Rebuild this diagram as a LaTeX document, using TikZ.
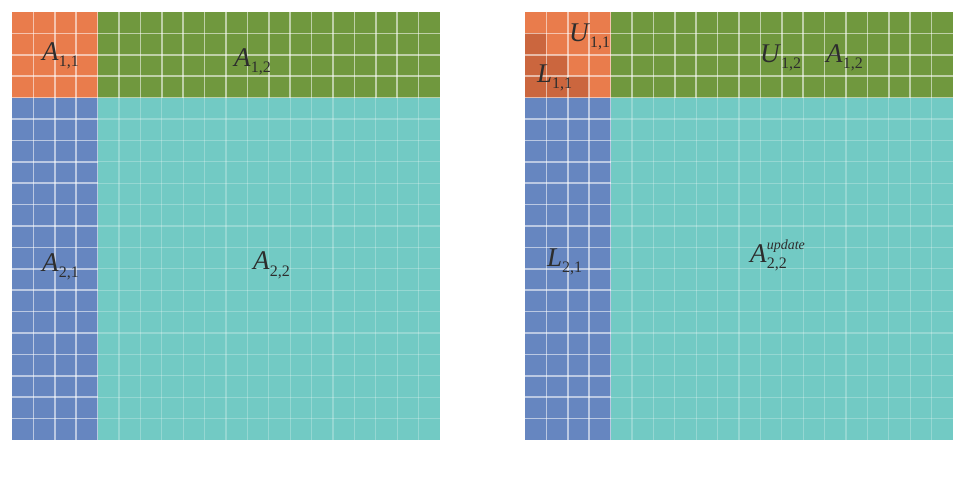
\documentclass[tikz,border=0pt]{standalone}
\usepackage{fontspec}
\setmainfont{Liberation Serif}
\definecolor{orng}{RGB}{233,124,76}
\definecolor{dorng}{RGB}{203,102,62}
\definecolor{grn}{RGB}{112,152,62}
\definecolor{blu}{RGB}{102,134,192}
\definecolor{cyn}{RGB}{114,202,196}
\definecolor{txt}{RGB}{45,45,45}
\newcommand{\blab}[2]{\textit{#1}\raisebox{-6pt}{\fontsize{16}{16}\selectfont #2}}
\begin{document}
\begin{tikzpicture}[x=1pt,y=-1pt,
  lbl/.style={font=\fontsize{27}{27}\selectfont, text=txt, inner sep=0pt, anchor=base west},
  gridstrong/.style={draw=white, opacity=0.55, line width=1.5pt},
  gridweak/.style={draw=white, opacity=0.25, line width=1.3pt}]
\useasboundingbox (0,0) rectangle (961,486);
\def\c{21.4}
\foreach \ox in {12,525} {
  \fill[cyn] (\ox,12) rectangle ++(428,428);
  \fill[orng] (\ox,12) rectangle ++(85.6,85.6);
  \fill[grn] (\ox+85.6,12) rectangle ++(342.4,85.6);
  \fill[blu] (\ox,97.6) rectangle ++(85.6,342.4);
  % weak grid in cyan region
  \foreach \i in {5,...,19} {
    \draw[gridweak] (\ox+\i*\c,97.6) -- (\ox+\i*\c,440);
    \draw[gridweak] (\ox+85.6,12+\i*\c) -- (\ox+428,12+\i*\c);
  }
}
% darker lower-triangle cells of L11
\foreach \r in {1,2,3} {
  \foreach \cc in {1,...,\r} {
    \fill[dorng] (525+\cc*\c-\c,12+\r*\c) rectangle ++(\c,\c);
  }
}
\foreach \ox in {12,525} {
  \foreach \i in {1,...,19} {
    \draw[gridstrong] (\ox+\i*\c,12) -- (\ox+\i*\c,97.6);
    \draw[gridstrong] (\ox,12+\i*\c) -- (\ox+85.6,12+\i*\c);
  }
  \foreach \i in {1,2,3,4} {
    \draw[gridstrong] (\ox+\i*\c,97.6) -- (\ox+\i*\c,440);
    \draw[gridstrong] (\ox+85.6,12+\i*\c) -- (\ox+428,12+\i*\c);
  }
}
% labels left
\node[lbl] (a11) at (42,61) {\blab{A}{1,1}};
\node[lbl] (a12) at (234,67) {\blab{A}{1,2}};
\node[lbl] (a21) at (42,272) {\blab{A}{2,1}};
\node[lbl] (a22) at (253,270) {\blab{A}{2,2}};
% labels right
\node[lbl] (u11) at (569,42) {\blab{U}{1,1}};
\node[lbl] (l11) at (537,83) {\blab{L}{1,1}};
\node[lbl] (u12) at (760,63) {\blab{U}{1,2}};
\node[lbl] (ra12) at (826,63) {\blab{A}{1,2}};
\node[lbl] (l21) at (547,267) {\blab{L}{2,1}};
\node[lbl] (a22u) at (750,263) {\textit{A}\rlap{\raisebox{13pt}{\fontsize{14}{14}\selectfont\itshape update}}\raisebox{-6pt}{\fontsize{16}{16}\selectfont 2,2}\phantom{\fontsize{14}{14}\selectfont\itshape upd}};
\end{tikzpicture}
\end{document}
